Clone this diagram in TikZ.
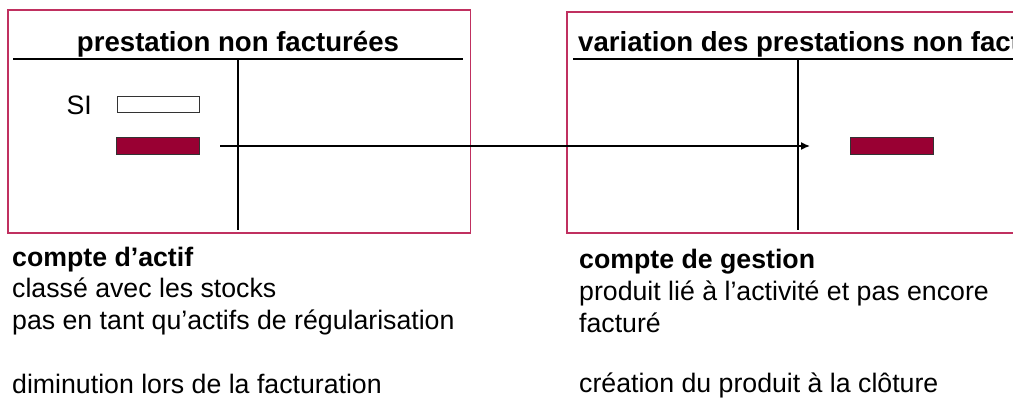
\documentclass[tikz,border=0pt]{standalone}
\usepackage{fontspec}
\setmainfont{Liberation Sans}
\usetikzlibrary{arrows.meta}
\definecolor{boxborder}{RGB}{192,48,96}
\definecolor{darkred}{RGB}{153,0,51}
\tikzset{
  acct/.style={draw=boxborder, line width=1.3pt},
  tline/.style={draw=black, line width=2pt},
  bar/.style={draw=black!80, line width=1pt},
  txt/.style={inner sep=0pt, anchor=base west, font=\fontsize{26.7}{31.7}\selectfont},
  ttl/.style={inner sep=0pt, anchor=base, font=\fontsize{27.6}{31.7}\selectfont\bfseries},
  flow/.style={draw=black, line width=1.5pt, -{Latex[length=9pt,width=8pt]}}
}
\begin{document}
\begin{tikzpicture}[x=1pt,y=-1pt]
\useasboundingbox (0,0) rectangle (1013,401);
\clip (0,0) rectangle (1013,401);
% left account
\draw[acct] (8,10) rectangle (470.5,233);
\node[ttl] (t1) at (238,51.7) {prestation non facturées};
\draw[tline] (13,59) -- (463,59);
\draw[tline] (238,60) -- (238,230);
\node[txt, anchor=base east] (si) at (92,115) {SI};
\draw[bar, fill=white] (117,97) rectangle (199.5,113);
\draw[bar, fill=darkred] (116,137.5) rectangle (199,154.5);
% right account
\draw[acct] (567,12) rectangle (1030,233);
\node[ttl, anchor=base west] (t2) at (578,51.7) {variation des prestations non facturées};
\draw[tline] (573,59) -- (1020,59);
\draw[tline] (798,60) -- (798,230);
\draw[bar, fill=darkred] (850,137.5) rectangle (933,154.5);
% arrow
\coordinate (from) at (220,146);
\coordinate (to) at (810,146);
\draw[flow] (from) -- (to);
% left texts
\node[txt] (l1) at (12,266) {\bfseries compte d’actif};
\node[txt] (l2) at (12,297.5) {classé avec les stocks};
\node[txt] (l3) at (12,329.5) {pas en tant qu’actifs de régularisation};
\node[txt] (l4) at (12,393) {diminution lors de la facturation};
% right texts
\node[txt] (r1) at (579,268) {\bfseries compte de gestion};
\node[txt] (r2) at (579,300) {produit lié à l’activité et pas encore};
\node[txt] (r3) at (579,332) {facturé};
\node[txt] (r4) at (579,392.5) {création du produit à la clôture};
\end{tikzpicture}
\end{document}
